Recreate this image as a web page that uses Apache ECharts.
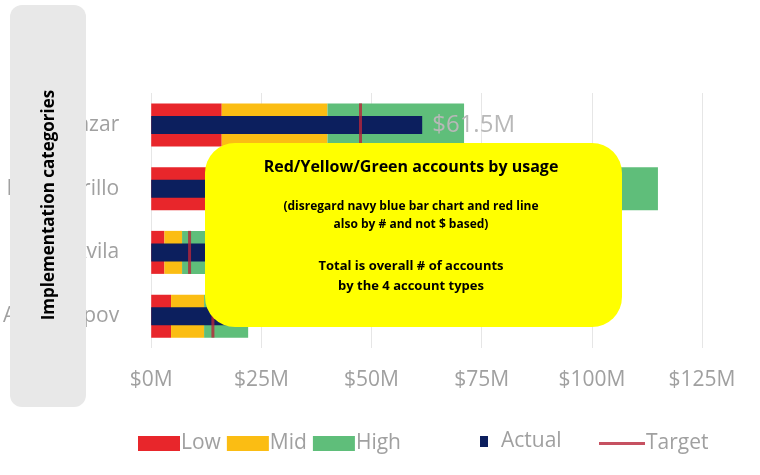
<!DOCTYPE html>
<html>
<head>
<meta charset="utf-8">
<script src="https://cdn.jsdelivr.net/npm/echarts@6/dist/echarts.min.js"></script>
<style>
  html, body { margin: 0; padding: 0; background: #fff; }
  #main { width: 760px; height: 475px; }
</style>
</head>
<body>
<div id="main"></div>
<script>
// categories (names partly hidden in the source image)
var categories = ['Mel Bazar', 'Karl Murillo', 'Peter Avila', 'Andy Popov'];
// band upper limits, $M
var lowLimit = [16, 16, 3, 4.5];
var midLimit = [40, 42, 7, 12];
var highLimit = [71, 115, 13, 22];
var actual = [61.5, 55, 16, 21.2];
var target = [47.5, 50, 8.7, 14];
var xTicks = [0, 25, 50, 75, 100, 125];

var chart = echarts.init(document.getElementById('main'));

var midPart = midLimit.map(function (v, i) { return +(v - lowLimit[i]).toFixed(2); });
var highPart = highLimit.map(function (v, i) { return +(v - midLimit[i]).toFixed(2); });
var targetPts = target.map(function (v, i) { return [v, categories[i]]; });

var axisFont = { color: '#a0a0a0', fontSize: 21, fontFamily: 'Open Sans' };

var option = {
    backgroundColor: '#fff',
    animation: false,
    grid: { left: 140, right: 58, top: 93, bottom: 127 },
    xAxis: {
        type: 'value',
        min: 0, max: 125, interval: 25,
        axisLine: { show: false },
        axisTick: { show: false },
        splitLine: { lineStyle: { color: '#e6e6e6' } },
        axisLabel: Object.assign({ margin: 22, formatter: function (v) { return '$' + v + 'M'; } }, axisFont)
    },
    yAxis: [
        {
            type: 'category', inverse: true, data: categories,
            axisLine: { show: false }, axisTick: { show: false },
            axisLabel: Object.assign({ margin: 32 }, axisFont)
        },
        {
            type: 'category', inverse: true, data: categories, show: false
        }
    ],
    legend: [
        {
            data: ['Low', 'Mid', 'High'],
            left: 133, bottom: 16, itemWidth: 42, itemHeight: 15, itemGap: 6,
            icon: 'rect',
            textStyle: { color: '#a0a0a0', fontSize: 21, fontFamily: 'Open Sans', padding: [0, 0, 0, -4] }
        },
        {
            data: ['Actual'],
            left: 475, bottom: 18, itemWidth: 8, itemHeight: 11,
            icon: 'rect',
            textStyle: { color: '#a0a0a0', fontSize: 21, fontFamily: 'Open Sans', padding: [0, 0, 0, 8] }
        },
        {
            data: ['Target'],
            left: 594, bottom: 16, itemWidth: 46, itemHeight: 3,
            icon: 'rect',
            textStyle: { color: '#a0a0a0', fontSize: 21, fontFamily: 'Open Sans', padding: [0, 0, 0, -4] }
        }
    ],
    series: [
        { name: 'Low', type: 'bar', stack: 'band', barWidth: 43, data: lowLimit, itemStyle: { color: '#e8262b' } },
        { name: 'Mid', type: 'bar', stack: 'band', barWidth: 43, data: midPart, itemStyle: { color: '#fbbd13' } },
        { name: 'High', type: 'bar', stack: 'band', barWidth: 43, data: highPart, itemStyle: { color: '#5fbe7a' } },
        {
            name: 'Actual', type: 'bar', yAxisIndex: 1, barWidth: 18, data: actual,
            itemStyle: { color: '#0c1f5e' },
            label: {
                show: true, position: 'right', distance: 10,
                color: '#b8b8b8', fontSize: 24, fontFamily: 'Open Sans',
                formatter: function (p) { return '$' + p.value + 'M'; }
            },
            z: 3
        },
        {
            name: 'Target', type: 'scatter', data: targetPts,
            symbol: 'rect', symbolSize: [3, 43],
            itemStyle: { color: '#b8263a' }, z: 4
        }
    ],
    graphic: [
        {
            type: 'rect', left: 10, top: 5, z: 100,
            shape: { width: 76, height: 402, r: 12 },
            style: { fill: '#e8e8e8' }
        },
        {
            type: 'text', z: 101, x: 49, y: 205, rotation: Math.PI / 2,
            style: {
                text: 'Implementation categories', fill: '#000',
                font: 'bold 17px "Open Sans"', align: 'center', verticalAlign: 'middle'
            }
        },
        {
            type: 'rect', left: 205, top: 143, z: 100,
            shape: { width: 417, height: 184, r: 30 },
            style: { fill: '#ffff00' }
        },
        {
            type: 'text', z: 101, x: 411, y: 167,
            style: { text: 'Red/Yellow/Green accounts by usage', fill: '#000', font: 'bold 16px "Open Sans"', align: 'center', verticalAlign: 'middle' }
        },
        {
            type: 'text', z: 101, x: 411, y: 216,
            style: { text: '(disregard navy blue bar chart and red line\nalso by # and not $ based)', fill: '#000', font: 'bold 12px "Open Sans"', lineHeight: 18, align: 'center', verticalAlign: 'middle' }
        },
        {
            type: 'text', z: 101, x: 411, y: 276,
            style: { text: 'Total is overall # of accounts\nby the 4 account types', fill: '#000', font: 'bold 13px "Open Sans"', lineHeight: 20, align: 'center', verticalAlign: 'middle' }
        }
    ]
};
chart.setOption(option);
</script>
</body>
</html>
